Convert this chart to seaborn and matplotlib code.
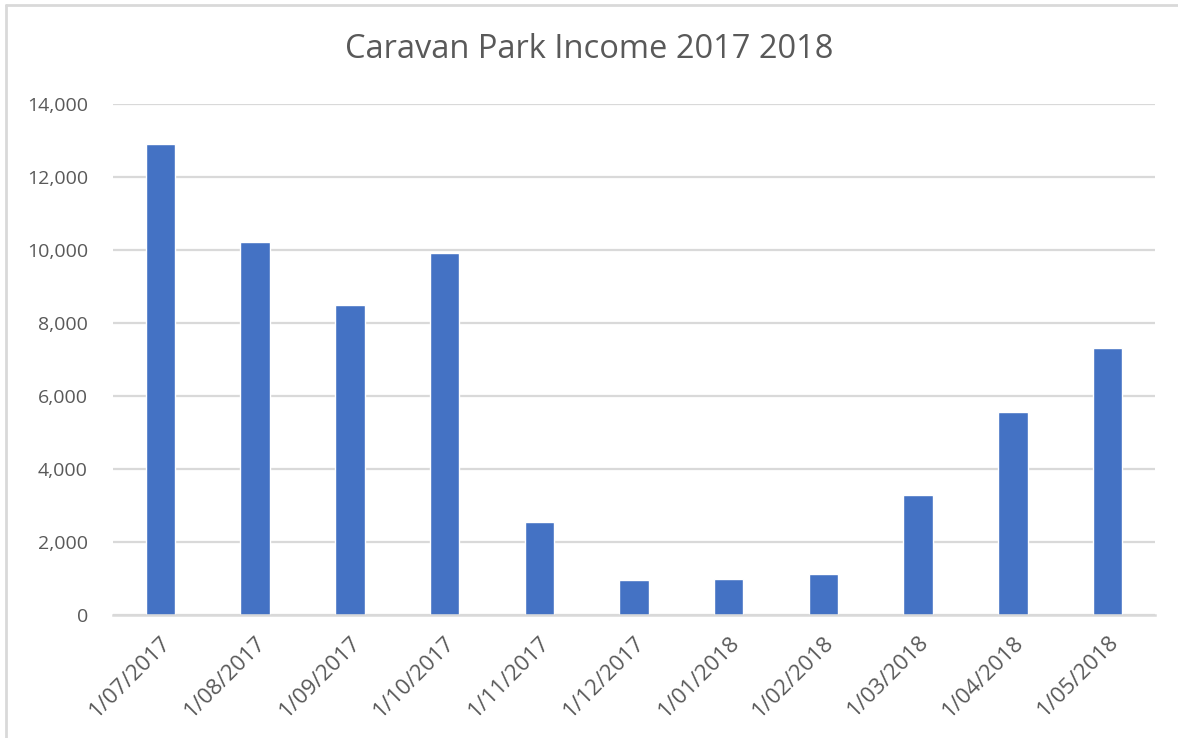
import matplotlib
matplotlib.use("Agg")
import matplotlib.pyplot as plt
from matplotlib.lines import Line2D
from matplotlib.ticker import FuncFormatter
import seaborn as sns
import pandas as pd

months = ["1/07/2017", "1/08/2017", "1/09/2017", "1/10/2017", "1/11/2017",
          "1/12/2017", "1/01/2018", "1/02/2018", "1/03/2018", "1/04/2018",
          "1/05/2018"]
income = [12900, 10210, 8480, 9920, 2560, 960, 990, 1130, 3300, 5560, 7310]
y_ticks = [0, 2000, 4000, 6000, 8000, 10000, 12000, 14000]

sns.set_theme(style="white")
plt.rcParams["font.family"] = ["Open Sans", "DejaVu Sans"]

text_color = "#595959"
grid_color = "#d9d9d9"

df = pd.DataFrame({"month": months, "income": income})

fig = plt.figure(figsize=(11.78, 7.38), dpi=100)
ax = fig.add_axes([113 / 1178, 1 - 615 / 738, (1155 - 113) / 1178, (615 - 104) / 738])

sns.barplot(data=df, x="month", y="income", color="#4472C4", saturation=1,
            width=0.31, ax=ax, zorder=3)

ax.set_ylim(0, 14000)
ax.set_xlim(-0.5, len(months) - 0.5)
ax.set_yticks(y_ticks)
ax.yaxis.set_major_formatter(FuncFormatter(lambda v, _: f"{int(v):,}"))
ax.grid(axis="y", color=grid_color, linewidth=1.6, zorder=0)
ax.grid(axis="x", visible=False)
for side in ["top", "right", "left"]:
    ax.spines[side].set_visible(False)
ax.spines["bottom"].set_color(grid_color)
ax.spines["bottom"].set_linewidth(1.8)
ax.spines["bottom"].set_zorder(4)

ax.set_xlabel("")
ax.set_ylabel("")
ax.tick_params(axis="both", length=0, colors=text_color)
ax.tick_params(axis="y", pad=18, labelsize=14)
ax.tick_params(axis="x", pad=12, labelsize=16)
plt.setp(ax.get_xticklabels(), rotation=45, ha="right", rotation_mode="anchor")

fig.text(0.5, 1 - 50 / 738, "Caravan Park Income 2017 2018", ha="center", va="center",
         fontsize=23.5, color=text_color)

# chart-area frame (top and left edges)
fig.add_artist(Line2D([6 / 1178, 1], [1 - 5 / 738, 1 - 5 / 738], color="#d9d9d9",
                      linewidth=2, transform=fig.transFigure))
fig.add_artist(Line2D([6 / 1178, 6 / 1178], [0, 1 - 5 / 738], color="#d9d9d9",
                      linewidth=2, transform=fig.transFigure))

fig.savefig("out.png", dpi=100, facecolor="white")
